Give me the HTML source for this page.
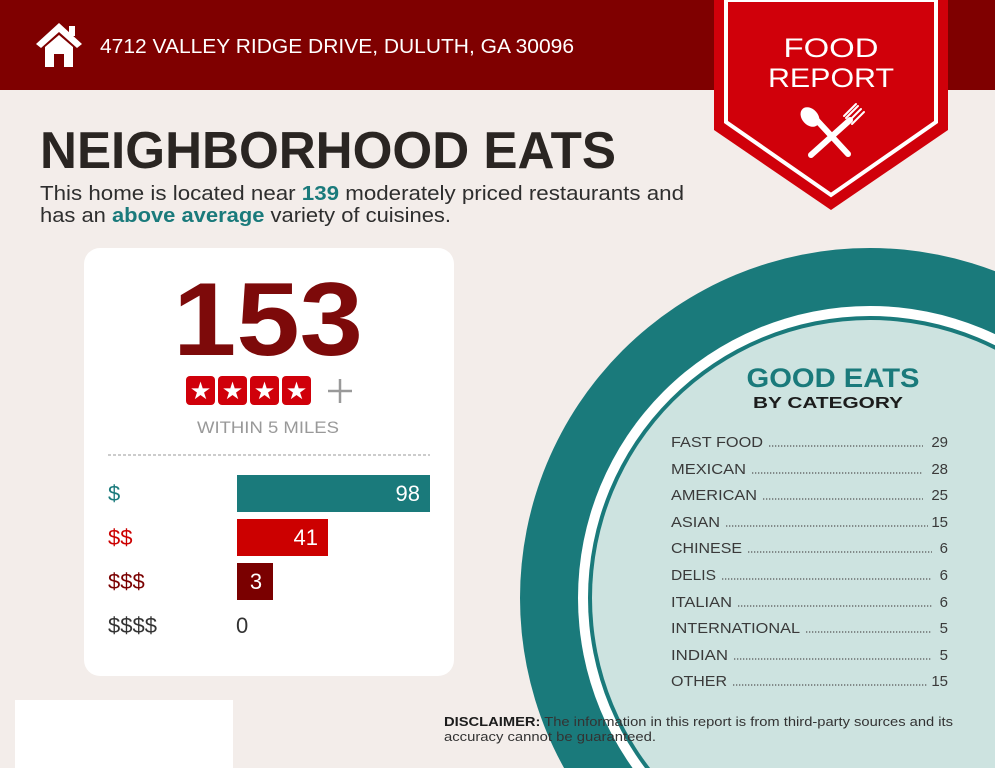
<!DOCTYPE html>
<html><head><meta charset="utf-8"><style>
html,body{margin:0;padding:0;background:#f3edea;width:995px;height:768px;overflow:hidden;}
svg{display:block;font-family:"Liberation Sans",sans-serif;}
</style></head><body>
<svg width="995" height="768" viewBox="0 0 995 768" xmlns="http://www.w3.org/2000/svg">
<rect width="995" height="768" fill="#f3edea"/>
<rect width="995" height="90" fill="#7f0000"/>
<g fill="#fff">
<polygon points="59,23 36,44 41,48 59,32 77,48 82,44"/>
<rect x="69" y="26" width="6" height="10"/>
<polygon points="45,47 59,35 73,47 73,67 64,67 64,54 54,54 54,67 45,67"/>
</g>
<text x="100" y="53" font-size="20" fill="#fff" textLength="474" lengthAdjust="spacingAndGlyphs">4712 VALLEY RIDGE DRIVE, DULUTH, GA 30096</text>
<polygon points="714,0 948,0 948,130 831,210 714,130" fill="#d0000a"/>
<polygon points="726,0 936,0 936,122 831,195 726,122" fill="none" stroke="#fff" stroke-width="4"/>
<text x="831" y="57" font-size="27" fill="#fff" text-anchor="middle" textLength="95" lengthAdjust="spacingAndGlyphs">FOOD</text>
<text x="831" y="87" font-size="27" fill="#fff" text-anchor="middle" textLength="126" lengthAdjust="spacingAndGlyphs">REPORT</text>
<g stroke="#fff" stroke-linecap="round" fill="#fff">
<line x1="812" y1="115" x2="848" y2="154" stroke-width="6"/>
<ellipse cx="810" cy="117" rx="8" ry="11" transform="rotate(-42 810 117)" stroke="none"/>
<line x1="850" y1="120" x2="811" y2="155" stroke-width="6"/>
<path d="M846,118 L858,106 M849,121 L861,109 M852,124 L864,112 M844,116 L856,104" stroke-width="2"/>
</g>
<text x="40" y="168" font-size="52" font-weight="bold" fill="#2a2522" textLength="576" lengthAdjust="spacingAndGlyphs">NEIGHBORHOOD EATS</text>
<text x="40" y="200" font-size="20" fill="#2e2e2e" textLength="644" lengthAdjust="spacingAndGlyphs">This home is located near <tspan fill="#1a7a7b" font-weight="bold">139</tspan> moderately priced restaurants and</text>
<text x="40" y="222" font-size="20" fill="#2e2e2e" textLength="411" lengthAdjust="spacingAndGlyphs">has an <tspan fill="#1a7a7b" font-weight="bold">above average</tspan> variety of cuisines.</text>
<rect x="84" y="248" width="370" height="428" rx="16" fill="#fff"/>
<text x="268" y="355" font-size="104" font-weight="bold" fill="#7d0a0a" text-anchor="middle" textLength="190" lengthAdjust="spacingAndGlyphs">153</text>
<rect x="186" y="376" width="29" height="29" rx="4" fill="#d0000a"/>
<rect x="218" y="376" width="29" height="29" rx="4" fill="#d0000a"/>
<rect x="250" y="376" width="29" height="29" rx="4" fill="#d0000a"/>
<rect x="282" y="376" width="29" height="29" rx="4" fill="#d0000a"/>
<g fill="#fff" font-size="24" text-anchor="middle">
<text x="200.5" y="399">★</text><text x="232.5" y="399">★</text><text x="264.5" y="399">★</text><text x="296.5" y="399">★</text>
</g>
<path d="M328,391 H352 M340,379 V403" stroke="#999" stroke-width="2.5"/>
<text x="268" y="433" font-size="17" fill="#999" text-anchor="middle" textLength="142" lengthAdjust="spacingAndGlyphs">WITHIN 5 MILES</text>
<line x1="108" y1="455" x2="430" y2="455" stroke="#999" stroke-width="1" stroke-dasharray="3,2"/>
<rect x="237" y="475" width="193" height="37" fill="#1a7a7b"/>
<rect x="237" y="519" width="91" height="37" fill="#cc0000"/>
<rect x="237" y="563" width="36" height="37" fill="#7a0000"/>
<g font-size="22">
<text x="108" y="501" fill="#1a7a7b">$</text>
<text x="108" y="545" fill="#cc0000">$$</text>
<text x="108" y="589" fill="#7a0000">$$$</text>
<text x="108" y="633" fill="#333">$$$$</text>
<text x="420" y="501" fill="#fff" text-anchor="end">98</text>
<text x="318" y="545" fill="#fff" text-anchor="end">41</text>
<text x="256" y="589" fill="#fff" text-anchor="middle">3</text>
<text x="236" y="633" fill="#333">0</text>
</g>
<rect x="15" y="700" width="218" height="68" fill="#fff"/>
<circle cx="870" cy="598" r="350" fill="#1a7a7b"/>
<circle cx="870" cy="598" r="292" fill="#fff"/>
<circle cx="870" cy="598" r="282" fill="#1a7a7b"/>
<circle cx="870" cy="598" r="278" fill="#cde3e0"/>
<text x="833" y="387" font-size="27" font-weight="bold" fill="#1a7a7b" text-anchor="middle" textLength="173" lengthAdjust="spacingAndGlyphs">GOOD EATS</text>
<text x="828" y="408" font-size="16" font-weight="bold" fill="#1c1c1c" text-anchor="middle" textLength="150" lengthAdjust="spacingAndGlyphs">BY CATEGORY</text>
<g font-size="15" fill="#3a3a3a">
<text x="671" y="447" textLength="92" lengthAdjust="spacingAndGlyphs">FAST FOOD</text><text x="948" y="447" text-anchor="end">29</text>
<text x="671" y="474" textLength="75" lengthAdjust="spacingAndGlyphs">MEXICAN</text><text x="948" y="474" text-anchor="end">28</text>
<text x="671" y="500" textLength="86" lengthAdjust="spacingAndGlyphs">AMERICAN</text><text x="948" y="500" text-anchor="end">25</text>
<text x="671" y="527" textLength="49" lengthAdjust="spacingAndGlyphs">ASIAN</text><text x="948" y="527" text-anchor="end">15</text>
<text x="671" y="553" textLength="71" lengthAdjust="spacingAndGlyphs">CHINESE</text><text x="948" y="553" text-anchor="end">6</text>
<text x="671" y="580" textLength="45" lengthAdjust="spacingAndGlyphs">DELIS</text><text x="948" y="580" text-anchor="end">6</text>
<text x="671" y="607" textLength="61" lengthAdjust="spacingAndGlyphs">ITALIAN</text><text x="948" y="607" text-anchor="end">6</text>
<text x="671" y="633" textLength="129" lengthAdjust="spacingAndGlyphs">INTERNATIONAL</text><text x="948" y="633" text-anchor="end">5</text>
<text x="671" y="660" textLength="57" lengthAdjust="spacingAndGlyphs">INDIAN</text><text x="948" y="660" text-anchor="end">5</text>
<text x="671" y="686" textLength="56" lengthAdjust="spacingAndGlyphs">OTHER</text><text x="948" y="686" text-anchor="end">15</text>
</g>
<g stroke="#555" stroke-width="1.3" stroke-dasharray="1.3,1.7">
<line x1="769" y1="446" x2="923" y2="446"/>
<line x1="752" y1="473" x2="923" y2="473"/>
<line x1="763" y1="499" x2="923" y2="499"/>
<line x1="726" y1="526" x2="928" y2="526"/>
<line x1="748" y1="552" x2="932" y2="552"/>
<line x1="722" y1="579" x2="932" y2="579"/>
<line x1="738" y1="606" x2="932" y2="606"/>
<line x1="806" y1="632" x2="932" y2="632"/>
<line x1="734" y1="659" x2="932" y2="659"/>
<line x1="733" y1="685" x2="928" y2="685"/>
</g>
<text x="444" y="726" font-size="12.5" fill="#333" textLength="509" lengthAdjust="spacingAndGlyphs"><tspan font-weight="bold" fill="#1c1c1c">DISCLAIMER:</tspan> The information in this report is from third-party sources and its</text>
<text x="444" y="741" font-size="12.5" fill="#333" textLength="212" lengthAdjust="spacingAndGlyphs">accuracy cannot be guaranteed.</text>
</svg>
</body></html>
